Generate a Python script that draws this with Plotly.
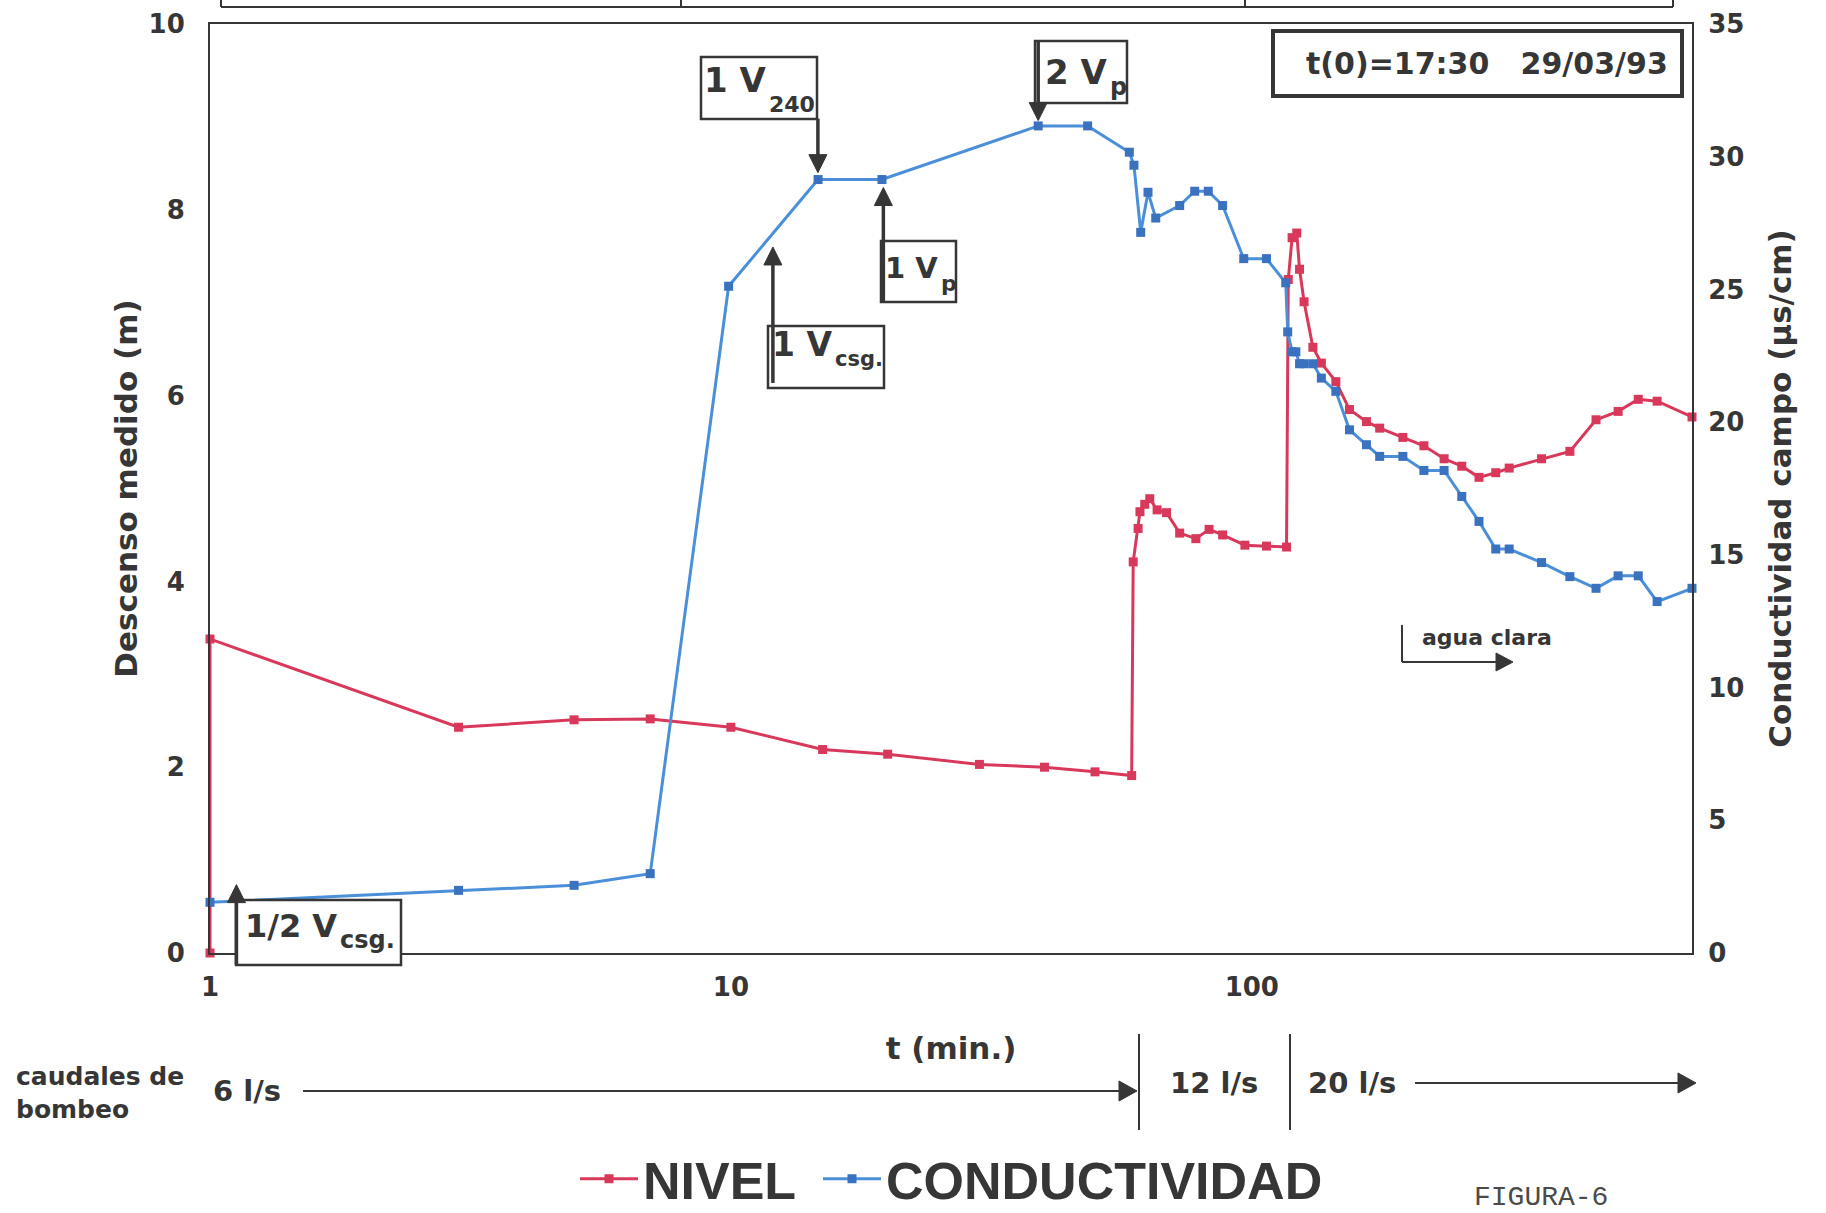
import plotly.graph_objects as go
import math

# ---------------- data ----------------
nivel_t = [1, 1, 3, 5, 7, 10, 15, 20, 30, 40, 50,
           58.8, 59.2, 60.5, 61.0, 62.3, 63.7, 65.8, 68.6, 72.7, 78.1, 82.8, 87.9, 97.0, 106.7, 116.6,
           117.5, 119.5, 122, 123.5, 126, 131,
           136, 145, 154, 166, 176, 195, 214, 234, 253, 273, 294, 312, 360, 408, 458, 505, 552, 600, 700]
nivel_m = [0, 3.38, 2.43, 2.51, 2.52, 2.43, 2.19, 2.14, 2.03, 2.00, 1.95,
           1.91, 4.21, 4.57, 4.75, 4.83, 4.89, 4.77, 4.74, 4.52, 4.46, 4.56, 4.50, 4.39, 4.38, 4.37,
           7.25, 7.70, 7.75, 7.36, 7.01, 6.52,
           6.35, 6.15, 5.85, 5.72, 5.65, 5.55, 5.46, 5.32, 5.24, 5.12, 5.17, 5.22, 5.32, 5.40, 5.74, 5.83, 5.96, 5.94, 5.77]

cond_t = [1, 3, 5, 7, 9.9, 14.7, 19.5, 38.9, 48.4,
          58.2, 59.4, 61.2, 63.2, 65.4, 72.7, 77.7, 82.5, 87.9, 96.5, 106.7, 116.2,
          117.2, 119.5, 121.5, 123.5, 126, 131,
          136, 145, 154, 166, 176, 195, 214, 234, 253, 273, 294, 312, 360, 408, 458, 505, 552, 600, 700]
cond_v = [1.91, 2.36, 2.55, 2.99, 25.12, 29.14, 29.14, 31.16, 31.16,
          30.17, 29.68, 27.15, 28.66, 27.69, 28.16, 28.7, 28.7, 28.16, 26.16, 26.16, 25.25,
          23.4, 22.65, 22.65, 22.2, 22.2, 22.2,
          21.66, 21.16, 19.71, 19.15, 18.71, 18.71, 18.18, 18.18, 17.2, 16.26, 15.22, 15.22,
          14.71, 14.18, 13.74, 14.21, 14.21, 13.24, 13.74]

x_ticks = [1, 10, 100]
y_left_ticks = [0, 2, 4, 6, 8, 10]
y_right_ticks = [0, 5, 10, 15, 20, 25, 30, 35]

# ---------------- layout geometry ----------------
W, H = 1826, 1213
ML, MR, MT, MB = 210, 134, 24, 260
PW, PH = W - ML - MR, H - MT - MB
XMAX = math.log10(700)
YMAX = 10


def px(xf):
    return (xf - ML) / PW


def py(yf):
    return (H - MB - yf) / PH


def tpix(t):
    """pixel x of a time value on the log axis (for annotation placement)"""
    return ML + math.log10(t) / XMAX * PW


def ypix(v):
    """pixel y of a value on the left axis (for annotation placement)"""
    return MT + PH * (1 - v / YMAX)


INK = "#363636"
RED = "#d8395a"
BLUE = "#4a8fd8"
BLUE_M = "#3a72c0"

fig = go.Figure()
fig.add_trace(go.Scatter(
    x=nivel_t, y=nivel_m, name="NIVEL", mode="lines+markers",
    line=dict(color=RED, width=3), marker=dict(symbol="square", size=9, color=RED),
    cliponaxis=False, yaxis="y", legend="legend"))
fig.add_trace(go.Scatter(
    x=cond_t, y=cond_v, name="CONDUCTIVIDAD", mode="lines+markers",
    line=dict(color=BLUE, width=3), marker=dict(symbol="square", size=9, color=BLUE_M),
    cliponaxis=False, yaxis="y2", legend="legend2"))

tickfont = dict(family="DejaVu Sans", size=26, color=INK, weight="bold")
titlefont = dict(family="DejaVu Sans", size=31, color=INK, weight="bold")
legfont = dict(family="Liberation Sans", size=52, color=INK, weight="bold")

shapes = []
annotations = []

# approximate DejaVu Sans Bold advance widths (em) for label layout
ADV = {"1": .696, "2": .696, "4": .696, "0": .696, " ": .348, "V": .774, "/": .365,
       "c": .593, "s": .595, "g": .716, ".": .380, "p": .716}


def twidth(s, size):
    return sum(ADV.get(ch, .65) for ch in s) * size


def rect(x0, y0, x1, y1, lw=2.5):
    shapes.append(dict(type="rect", xref="paper", yref="paper",
                       x0=px(x0), x1=px(x1), y0=py(y1), y1=py(y0),
                       line=dict(color=INK, width=lw), fillcolor="white", layer="above"))


def line(x0, y0, x1, y1, lw=2):
    shapes.append(dict(type="line", xref="paper", yref="paper",
                       x0=px(x0), x1=px(x1), y0=py(y0), y1=py(y1),
                       line=dict(color=INK, width=lw), layer="above"))


def arrow(xt, yt, xs, ys, lw=3.5, L=18, hw=9):
    """arrow from tail (xs, ys) to tip (xt, yt), in page pixels"""
    d = math.hypot(xt - xs, yt - ys)
    ux, uy = (xt - xs) / d, (yt - ys) / d
    bx, by = xt - ux * L, yt - uy * L
    line(xs, ys, bx + ux * 2, by + uy * 2, lw)
    nx, ny = -uy, ux
    p1 = (bx + nx * hw, by + ny * hw)
    p2 = (bx - nx * hw, by - ny * hw)
    path = "M {:.5f},{:.5f} L {:.5f},{:.5f} L {:.5f},{:.5f} Z".format(
        px(xt), py(yt), px(p1[0]), py(p1[1]), px(p2[0]), py(p2[1]))
    shapes.append(dict(type="path", xref="paper", yref="paper", path=path,
                       fillcolor=INK, line=dict(color=INK, width=1), layer="above"))


def text(x, y, s, size=32, xanchor="center", family="DejaVu Sans", weight="bold", align="center",
         color=INK, pad=1):
    annotations.append(dict(xref="paper", yref="paper", x=px(x), y=py(y), text=s,
                            showarrow=False, xanchor=xanchor, yanchor="middle", align=align,
                            borderpad=pad,
                            font=dict(family=family, size=size, color=color, weight=weight)))


def data_arrow(t, v, dy):
    xt, yt = tpix(t), ypix(v)
    arrow(xt, yt, xt, yt + dy)


def vlabel(x, y, main, sub, size, sy, ssize):
    """boxed label 'main' followed by a lowered subscript, placed side by side"""
    text(x, y, main, size, xanchor="left", pad=0)
    text(x + twidth(main, size) + 3, sy, sub, ssize, xanchor="left", pad=0)


# cut-off table at the very top
line(221, 7, 1673, 7, 2)
for xv in [221, 681, 1245, 1673]:
    line(xv, -2, xv, 7, 2)

# annotation boxes with arrows
rect(236, 900, 401, 965)
vlabel(244, 926, "1/2 V", "csg.", 32, 940, 24)
data_arrow(1.124, 0.736, 80)

rect(701, 57, 817, 119)
vlabel(703, 80, "1 V", "240", 34, 104, 22)
data_arrow(14.69, 8.40, -54)

rect(768, 326, 884, 388)
vlabel(771, 344, "1 V", "csg.", 33, 359, 21)
data_arrow(12.04, 7.60, 136)

rect(881, 241, 956, 302)
vlabel(884, 268, "1 V", "p", 29, 283, 22)
data_arrow(19.62, 8.24, 115)

rect(1035, 41, 1127, 103)
vlabel(1044, 72, "2 V", "p", 34, 87, 24)
data_arrow(38.9, 8.96, -79)

rect(1273, 31, 1682, 96, 4)
text(1487, 63, "t(0)=17:30   29/03/93", 30)

# agua clara
line(1402, 625, 1402, 662, 2)
arrow(1513, 662, 1402, 662, 2, 17, 9)
text(1420, 637, "agua clara", 22, xanchor="left")

# pumping rates below the axis
text(14, 1093, "caudales de<br>bombeo", 25, xanchor="left", align="left")
text(211, 1091, "6 l/s", 29, xanchor="left")
arrow(1137, 1091, 303, 1091, 2, 18, 10)
line(1139, 1034, 1139, 1130, 2)
text(1214, 1083, "12 l/s", 29)
line(1290, 1034, 1290, 1130, 2)
text(1306, 1083, "20 l/s", 29, xanchor="left")
arrow(1696, 1083, 1415, 1083, 2, 18, 10)

text(1541, 1197, "FIGURA-6", 28, family="Liberation Mono", weight="normal", color="#4a4a4a")

fig.update_layout(
    width=W, height=H,
    margin=dict(l=ML, r=MR, t=MT, b=MB, autoexpand=False),
    paper_bgcolor="white", plot_bgcolor="white",
    showlegend=True,
    legend=dict(orientation="h", x=px(575), y=py(1179), xanchor="left", yanchor="middle",
                font=legfont, itemwidth=58, bgcolor="rgba(0,0,0,0)", itemsizing="trace"),
    legend2=dict(orientation="h", x=px(818), y=py(1179), xanchor="left", yanchor="middle",
                 font=legfont, itemwidth=58, bgcolor="rgba(0,0,0,0)", itemsizing="trace"),
    xaxis=dict(type="log", range=[0, XMAX], tickvals=x_ticks,
               ticktext=[str(v) for v in x_ticks], tickfont=tickfont, ticks="", ticklabelstandoff=10,
               showgrid=False, zeroline=False, showline=True, linecolor=INK, linewidth=2, mirror=True,
               title=dict(text="t (min.)", font=titlefont, standoff=36)),
    yaxis=dict(range=[0, YMAX], tickvals=y_left_ticks, tickfont=tickfont, ticks="", ticklabelstandoff=18,
               showgrid=False, zeroline=False, showline=True, linecolor=INK, linewidth=2,
               title=dict(text="Descenso medido (m)", font=titlefont, standoff=2)),
    yaxis2=dict(range=[0, 35], tickvals=y_right_ticks, tickfont=tickfont, ticks="", ticklabelstandoff=9,
                overlaying="y", side="right",
                showgrid=False, zeroline=False, showline=True, linecolor=INK, linewidth=2,
                title=dict(text="Conductividad campo (µs/cm)", font=titlefont, standoff=26)),
    shapes=shapes, annotations=annotations,
)

fig.write_html("out.html")
